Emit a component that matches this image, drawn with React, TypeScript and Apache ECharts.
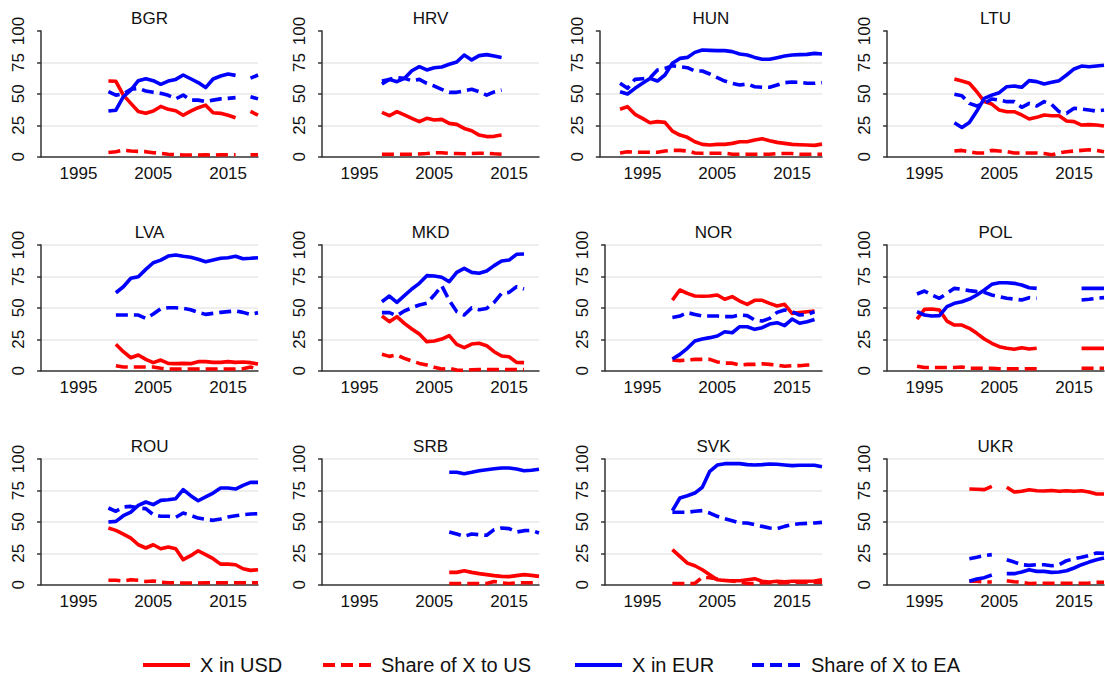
import React, { useEffect, useRef } from "react";
import * as echarts from "echarts";

// ---------- DATA (values in percent) ----------
const COUNTRIES = ["BGR", "HRV", "HUN", "LTU", "LVA", "MKD", "NOR", "POL", "ROU", "SRB", "SVK", "UKR"];
const X_TICKS = [1995, 2005, 2015];
const Y_TICKS = [0, 25, 50, 75, 100];
const LEGEND_LABELS = ["X in USD", "Share of X to US", "X in EUR", "Share of X to EA"];

const BGR_START = 1999;
const BGR_USD = [60.2, 60, 49, 42.4, 36, 34.5, 36.3, 40, 37.7, 36.6, 33, 36.3, 39, 41, 35, 34.5, 33, 31, null, 36, 33];
const BGR_US_SHARE = [3.4, 4, 5.3, 4.5, 4.2, 4, 3.2, 2.7, 2, 1.6, 1.3, 1.3, 1.3, 1.5, 1.3, 1.5, 1.5, 1.5, null, 1.5, 1.5];
const BGR_EUR = [36.3, 37, 47.7, 53, 60.5, 62, 60.5, 57.6, 60.2, 61.5, 65, 62, 59, 55, 61.8, 64.2, 65.8, 64.7, null, 62.5, 65];
const BGR_EA_SHARE = [51.7, 49, 50, 53.6, 54.4, 52.3, 51.2, 50.4, 48.8, 46, 49, 45, 45, 43.8, 45, 46, 46.4, 47, null, 47.7, 46];

const HRV_START = 1998;
const HRV_USD = [35.3, 32.6, 35.8, 33.2, 30.5, 27.9, 30.5, 29.2, 29.7, 26.5, 25.7, 22.5, 20.7, 17.2, 16, 16.2, 17.2];
const HRV_US_SHARE = [2, 2, 2, 2, 2, 2.2, 2.5, 3.2, 3.2, 2.6, 2.5, 2.3, 2.5, 2.8, 2.8, 2.3, 2];
const HRV_EUR = [60.2, 61.5, 59.7, 62.3, 68.4, 71.6, 69, 70.8, 71.4, 73.5, 75.3, 80.9, 77, 80.4, 81.2, 80.1, 79];
const HRV_EA_SHARE = [57.8, 61.5, 63, 62.3, 60.5, 61.5, 58.4, 56.2, 53.6, 51.2, 51.2, 52.5, 53.6, 51.7, 49, 51.5, 53];

const HUN_START = 1992;
const HUN_USD = [37.7, 39.8, 33.7, 30.5, 27, 27.9, 27.3, 20.4, 17.2, 15.4, 11.9, 9.8, 9.3, 9.8, 9.8, 10.6, 11.9, 11.9, 13.3, 14.3, 12.7, 11.4, 10.6, 9.8, 9.5, 9.3, 9, 10];
const HUN_US_SHARE = [3, 4, 3.5, 3.5, 3.5, 3.5, 4.5, 5, 5, 4.5, 3, 2.8, 2.8, 2.8, 2.8, 2, 2, 2, 2, 2, 2, 2.5, 2.5, 2.5, 2, 2, 2, 2];
const HUN_EUR = [51.7, 49.9, 54.4, 58.4, 62.3, 60.2, 65, 74.3, 78.2, 79, 83, 84.9, 84.6, 84.4, 84.4, 83.6, 81.7, 80.9, 79, 77.5, 77.5, 78.8, 80.1, 80.9, 81.2, 81.4, 82.2, 81.7];
const HUN_EA_SHARE = [58.4, 54.4, 61.5, 62, 62.6, 69, 70.3, 72.4, 71.6, 70.8, 68.2, 68.2, 65.8, 62.9, 60.2, 58.4, 57, 57.8, 55.7, 55.2, 55.2, 57, 58.9, 59.4, 59.2, 58.4, 58.4, 58.9];

const LTU_START = 1999;
const LTU_USD = [61.8, 60.2, 58.4, 51.7, 43.8, 41.9, 37.1, 35.8, 35.8, 33.2, 30, 31.3, 33.2, 32.6, 32.6, 28.4, 27.9, 25.2, 25.5, 25.2, 24.4];
const LTU_US_SHARE = [4.5, 5, 4, 3, 3, 5, 4.5, 4, 3, 3, 3, 3, 2.5, 1.5, 3, 4, 4.5, 5, 5.5, 5, 4];
const LTU_EUR = [27, 23.3, 27.3, 36.3, 46.4, 49, 50.9, 55.7, 56.2, 55.2, 60.5, 59.7, 57.8, 59.2, 60.5, 65, 69.8, 72.1, 71.6, 72.1, 72.7];
const LTU_EA_SHARE = [49.6, 48.5, 42.4, 40.3, 42.4, 45.9, 45.1, 43.8, 43.8, 39.3, 42.4, 40.3, 43.8, 41.6, 35.8, 34.5, 38.5, 37.9, 37.1, 36.3, 37.1];

const LVA_START = 2000;
const LVA_USD = [21, 15.1, 10.3, 12.5, 9, 6.4, 8.5, 5.8, 5.6, 5.8, 5.6, 7.2, 7.2, 6.6, 6.6, 7.2, 6.6, 6.9, 6.4, 5.3];
const LVA_US_SHARE = [4, 3, 3, 3, 3, 3, 2, 1.3, 1.3, 1.3, 1.3, 1.3, 1.3, 1.3, 1.3, 1.3, 1.3, 1.5, 3, 1];
const LVA_EUR = [62, 66.8, 73.5, 74.8, 80.6, 85.9, 88, 91.2, 92, 91, 90.2, 88.6, 86.7, 88, 89.4, 89.9, 91, 89.1, 89.4, 89.9];
const LVA_EA_SHARE = [44.3, 44.3, 44.3, 44.3, 41.6, 45.1, 49.3, 50.1, 50.1, 49.6, 48.5, 46.4, 44.8, 45.6, 46.4, 47, 47.5, 46.4, 44.8, 46.2];

const MKD_START = 1998;
const MKD_USD = [43.5, 39, 43, 37.7, 33.2, 29.2, 23.1, 23.6, 25.2, 27.9, 21, 18.3, 21.2, 21.8, 19.9, 15.1, 11.7, 11.1, 6.6, 6.4];
const MKD_US_SHARE = [13, 11.4, 12.5, 9.8, 7.7, 5.8, 4.5, 2.7, 1.3, 1.9, 0.5, 0.2, 0.8, 1, 1, 1, 1, 1, 1, 1];
const MKD_EUR = [54.9, 59.4, 54.4, 59.7, 65, 69.5, 75.6, 75.3, 74.3, 70.8, 78.2, 81.4, 78.2, 77.5, 79.3, 83.6, 87.3, 88, 92.6, 92.8];
const MKD_EA_SHARE = [46.2, 46.2, 43.8, 47.5, 50.1, 52.3, 53.6, 60.2, 67.6, 56, 47, 44.3, 50, 48.5, 49.5, 54.4, 61.5, 62.3, 66.8, 65];

const NOR_START = 1999;
const NOR_USD = [56.2, 64.2, 61.5, 59.4, 59.2, 59.4, 60.2, 56.8, 58.9, 55.4, 52.8, 56, 56, 53.6, 51.5, 52.8, 45.6, 46.2, 46.9, 47.5];
const NOR_US_SHARE = [8.5, 8, 8.5, 9, 9, 9, 7, 6, 6, 4.5, 5, 5, 5.5, 5, 4.5, 3.5, 4, 4, 4.5, 4.5];
const NOR_EUR = [9.3, 13, 17.8, 23.6, 25.2, 26.3, 27.6, 31, 30.2, 35, 35, 32.9, 34.2, 37.1, 38.2, 35.8, 41.1, 37.7, 39, 40.8];
const NOR_EA_SHARE = [42.4, 43.5, 46.2, 44.8, 43.5, 43.5, 43.5, 43, 43, 44.3, 43.8, 40.3, 39.5, 41.6, 46.4, 48.3, 46.9, 44.3, 44.8, 46.9];

const POL_START = 1994;
const POL_USD = [41.1, 48.8, 49.1, 48.3, 39.5, 36.3, 36.3, 33.7, 29.7, 25.2, 21.8, 19.1, 17.8, 17, 18.3, 17.2, 17.8, null, null, null, null, null, 17.8, 17.8, 17.8, 17.8];
const POL_US_SHARE = [3.5, 2.5, 2.5, 2.5, 2.5, 2.5, 3, 2, 2, 2, 2, 1.5, 1.5, 1.5, 1.5, 1.5, 1.5, null, null, null, null, null, 2, 2, 2, 2];
const POL_EUR = [47, 44.3, 43.5, 43.8, 50.9, 53.6, 54.9, 57, 60.2, 64.2, 68.7, 70, 70, 69.5, 68.2, 66, 65.5, null, null, null, null, null, 65.5, 65.5, 65.5, 65.5];
const POL_EA_SHARE = [61, 63.4, 60.2, 57.6, 61.5, 65.5, 64.7, 63.7, 62.9, 62.3, 60.2, 58.9, 57.6, 57, 56.2, 58.1, 57.6, null, null, null, null, null, 56.2, 56.8, 57.6, 58.1];

const ROU_START = 1999;
const ROU_USD = [45.1, 43.2, 40.3, 37.1, 31.8, 29.2, 31.8, 28.6, 30, 28.6, 19.9, 23.1, 27, 23.9, 20.7, 16.4, 16.4, 15.9, 12.7, 11.4, 11.9];
const ROU_US_SHARE = [3.5, 3.5, 3, 4, 3.5, 2.5, 3, 2, 1.5, 1.5, 1.3, 1.3, 1.3, 1.5, 1.5, 1.5, 1.5, 1.5, 1.5, 1.5, 1.5];
const ROU_EUR = [49.9, 50.4, 54.9, 57.8, 63.1, 65.8, 63.7, 67.1, 67.6, 68.4, 75.6, 70.8, 66.8, 69.8, 72.9, 76.9, 76.9, 76.1, 79, 81.4, 81.4];
const ROU_EA_SHARE = [61, 58.4, 61.8, 62.3, 61, 60.5, 55.7, 54.4, 54.4, 53.6, 57, 55.2, 53, 52, 51.2, 52.3, 53.8, 54.9, 55.7, 56.2, 56.5];

const SRB_START = 2007;
const SRB_USD = [9.8, 9.8, 11.1, 9.8, 8.8, 8, 7.2, 6.6, 6.4, 7.2, 8, 7.4, 6.6];
const SRB_US_SHARE = [1, 1, 1, 1, 1, 1, 2.5, 1.5, 1, 1.5, 1.5, 1.5, 1.5];
const SRB_EUR = [89.4, 89.4, 88.3, 89.4, 90.7, 91.5, 92.3, 92.8, 92.8, 92, 90.7, 91, 91.8];
const SRB_EA_SHARE = [41.9, 40.3, 38.5, 40.3, 39.8, 39.3, 43.8, 45.1, 44.6, 41.9, 43, 43.2, 41.1];

const SVK_START = 1999;
const SVK_USD = [27.9, 22.5, 17.2, 15.1, 11.9, 8, 4, 3.4, 3.2, 3.2, 4, 4.8, 2.7, 2.1, 2.7, 2.4, 2.7, 2.7, 2.7, 2.9, 4];
const SVK_US_SHARE = [1, 1, 1, 1, 6, 5.5, 4.5, 3.5, 3, 2, 1, 1, 1.5, 1.5, 1.5, 1.5, 2, 2, 2, 2, 2];
const SVK_EUR = [58.9, 69, 70.8, 72.9, 77.5, 90.2, 95.2, 96.3, 96.3, 96.3, 95.5, 95.2, 95.5, 96, 95.8, 95.2, 94.7, 95, 95, 95, 93.9];
const SVK_EA_SHARE = [57.6, 57.6, 57.6, 58.4, 58.9, 57, 54.4, 52.5, 50.9, 49.1, 49.1, 47.7, 46.4, 45.1, 44.6, 46.4, 47.7, 48.5, 48.8, 49.1, 49.6];

const UKR_START = 2001;
const UKR_USD = [76.1, 75.9, 75.6, 78.2, null, 77.5, 73.7, 74.3, 75.6, 74.8, 74.5, 75, 74.3, 74.8, 74.3, 74.8, 73.7, 72.1, 72.1];
const UKR_US_SHARE = [2.7, 2.7, 2.1, 2.1, null, 3.2, 2.4, 1.9, 1, 1.2, 1.2, 1.2, 1.2, 1.2, 1.2, 1.2, 1.3, 2, 2];
const UKR_EUR = [2.7, 4.5, 5.6, 7.7, null, 8.8, 8.8, 10.1, 11.9, 10.6, 10.6, 9.8, 10.1, 11.1, 13.3, 15.9, 18, 19.9, 21.2];
const UKR_EA_SHARE = [20.7, 21.8, 23.1, 23.9, null, 19.9, 18, 15.9, 15.4, 15.9, 15.9, 15.1, 15.9, 19.1, 20.7, 21.8, 23.3, 25.2, 24.9];

type Panel = { start: number; series: (number | null)[][] };
const PANELS: Record<string, Panel> = {
  BGR: { start: BGR_START, series: [BGR_USD, BGR_US_SHARE, BGR_EUR, BGR_EA_SHARE] },
  HRV: { start: HRV_START, series: [HRV_USD, HRV_US_SHARE, HRV_EUR, HRV_EA_SHARE] },
  HUN: { start: HUN_START, series: [HUN_USD, HUN_US_SHARE, HUN_EUR, HUN_EA_SHARE] },
  LTU: { start: LTU_START, series: [LTU_USD, LTU_US_SHARE, LTU_EUR, LTU_EA_SHARE] },
  LVA: { start: LVA_START, series: [LVA_USD, LVA_US_SHARE, LVA_EUR, LVA_EA_SHARE] },
  MKD: { start: MKD_START, series: [MKD_USD, MKD_US_SHARE, MKD_EUR, MKD_EA_SHARE] },
  NOR: { start: NOR_START, series: [NOR_USD, NOR_US_SHARE, NOR_EUR, NOR_EA_SHARE] },
  POL: { start: POL_START, series: [POL_USD, POL_US_SHARE, POL_EUR, POL_EA_SHARE] },
  ROU: { start: ROU_START, series: [ROU_USD, ROU_US_SHARE, ROU_EUR, ROU_EA_SHARE] },
  SRB: { start: SRB_START, series: [SRB_USD, SRB_US_SHARE, SRB_EUR, SRB_EA_SHARE] },
  SVK: { start: SVK_START, series: [SVK_USD, SVK_US_SHARE, SVK_EUR, SVK_EA_SHARE] },
  UKR: { start: UKR_START, series: [UKR_USD, UKR_US_SHARE, UKR_EUR, UKR_EA_SHARE] },
};

// ---------- LAYOUT / STYLE ----------
const FONT = "'Liberation Sans', Arial, Helvetica, sans-serif";
const RED = "#ff0000";
const BLUE = "#0000ff";
const X_MAX = 2019;
const PX_PER_YEAR = 7.48;
const COL_RIGHT = [258, 539, 822, 1104];
const ROW_TOP = [31, 245, 459];
const PLOT_H = 125.7;
const X_MIN_DEFAULT = 1990;
const X_MIN_OVERRIDE: Record<string, number> = { HUN: 1989.3 };
const SERIES_COLORS = [RED, RED, BLUE, BLUE];
const SERIES_DASHED = [false, true, false, true];
const DASH = [12, 6];
const LINE_W = 3.6;
const TICK_FONT = 17;

function buildOption() {
  const grid: any[] = [];
  const xAxis: any[] = [];
  const yAxis: any[] = [];
  const series: any[] = [];
  const graphic: any[] = [];

  COUNTRIES.forEach((c, i) => {
    const row = Math.floor(i / 4);
    const col = i % 4;
    const xMin = X_MIN_OVERRIDE[c] ?? X_MIN_DEFAULT;
    const right = COL_RIGHT[col];
    const width = (X_MAX - xMin) * PX_PER_YEAR;
    const left = right - width;
    const top = ROW_TOP[row];
    grid.push({ left, top, width, height: PLOT_H, containLabel: false });
    xAxis.push({
      type: "value",
      gridIndex: i,
      min: xMin,
      max: X_MAX,
      axisLine: { show: true, lineStyle: { color: "#333", width: 1.5 } },
      axisTick: { show: false },
      splitLine: { show: false },
      axisLabel: {
        customValues: X_TICKS,
        fontSize: TICK_FONT,
        color: "#111",
        fontFamily: FONT,
        margin: 8,
        formatter: (v: number) => String(v),
      },
    });
    yAxis.push({
      type: "value",
      gridIndex: i,
      min: 0,
      max: 100,
      interval: 25,
      axisLine: { show: true, lineStyle: { color: "#333", width: 1.5 } },
      axisTick: { show: true, length: 4, lineStyle: { color: "#333", width: 1.5 } },
      axisLabel: {
        rotate: 90,
        fontSize: TICK_FONT,
        color: "#111",
        fontFamily: FONT,
        margin: 14,
        formatter: (v: number) => (Y_TICKS.includes(v) ? String(v) : ""),
      },
      splitLine: {
        show: true,
        showMinLine: false,
        showMaxLine: row > 0,
        lineStyle: { color: "#e9e9e9", width: 1.6 },
      },
    });
    const p = PANELS[c];
    p.series.forEach((arr, k) => {
      series.push({
        type: "line",
        name: LEGEND_LABELS[k],
        xAxisIndex: i,
        yAxisIndex: i,
        showSymbol: false,
        symbol: "none",
        connectNulls: false,
        data: arr.map((v, j) => [p.start + j, v == null ? "-" : v]),
        lineStyle: {
          color: SERIES_COLORS[k],
          width: LINE_W,
          type: SERIES_DASHED[k] ? DASH : "solid",
          cap: "butt",
          join: "round",
        },
        z: 3,
      });
    });
    graphic.push({
      type: "text",
      x: right - width / 2,
      y: top - 13,
      style: {
        text: c,
        fill: "#111",
        font: `17px ${FONT}`,
        textAlign: "center",
        textVerticalAlign: "middle",
        align: "center",
        verticalAlign: "middle",
      },
    });
  });

  // legend
  const LEG_Y = 665;
  const legendItems = [
    { x1: 143, x2: 190, tx: 200 },
    { x1: 323, x2: 372, tx: 381 },
    { x1: 575, x2: 622, tx: 632 },
    { x1: 752, x2: 800, tx: 811 },
  ];
  legendItems.forEach((it, k) => {
    graphic.push({
      type: "line",
      shape: { x1: it.x1, y1: LEG_Y, x2: it.x2, y2: LEG_Y },
      style: {
        stroke: SERIES_COLORS[k],
        lineWidth: 4,
        lineDash: SERIES_DASHED[k] ? [12, 6] : null,
      },
    });
    graphic.push({
      type: "text",
      x: it.tx,
      y: LEG_Y,
      style: {
        text: LEGEND_LABELS[k],
        fill: "#111",
        font: `20px ${FONT}`,
        textAlign: "left",
        textVerticalAlign: "middle",
        align: "left",
        verticalAlign: "middle",
      },
    });
  });

  return {
    animation: false,
    backgroundColor: "#ffffff",
    textStyle: { fontFamily: FONT },
    grid,
    xAxis,
    yAxis,
    series,
    graphic,
  };
}

export default function App() {
  const ref = useRef<HTMLDivElement>(null);
  useEffect(() => {
    if (!ref.current) return;
    const chart = echarts.init(ref.current, null, { renderer: "svg" });
    chart.setOption(buildOption() as any);
    return () => chart.dispose();
  }, []);
  return (
    <div
      ref={ref}
      style={{ position: "fixed", left: 0, top: 0, width: 1105, height: 681, background: "#fff" }}
    />
  );
}
